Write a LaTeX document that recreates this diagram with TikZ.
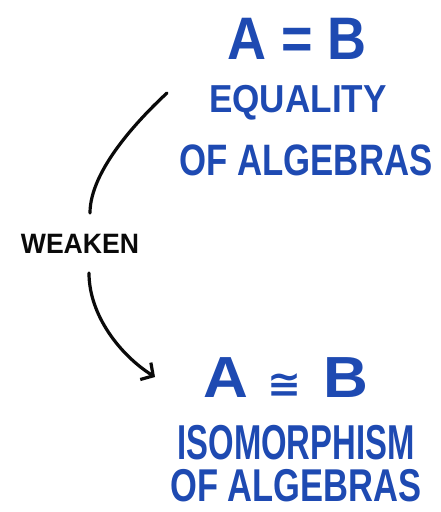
\documentclass[tikz,border=0pt]{standalone}
\usepackage{fontspec}
\setmainfont{Liberation Sans}
\newfontfamily\dejavu{DejaVu Sans}
\usetikzlibrary{arrows.meta}
\definecolor{inkblue}{RGB}{30,74,178}
\definecolor{inkblack}{RGB}{10,10,10}
\begin{document}
\begin{tikzpicture}[x=1pt,y=-1pt,
  bluetxt/.style={inner sep=0pt, text=inkblue, anchor=center, font=\bfseries},
  blktxt/.style={inner sep=0pt, text=inkblack, anchor=center, font=\bfseries},
  stroke/.style={draw=inkblack, line width=3.2pt, line cap=round}]
\useasboundingbox (0,0) rectangle (441,512);
\fill[white] (0,0) rectangle (441,512);
\node[bluetxt] (eq) at (297,39) {\fontsize{60}{60}\selectfont\scalebox{0.9}[1]{A = B}};
\node[bluetxt] (eqt1) at (298,103) {\fontsize{39}{39}\selectfont\scalebox{0.9}[1]{EQUALITY}};
\node[bluetxt] (eqt2) at (306,160) {\fontsize{44}{44}\selectfont\scalebox{0.79}[1]{OF ALGEBRAS}};
\node[bluetxt] (iso) at (286,378) {\fontsize{58}{58}\selectfont\scalebox{1.07}[1]{A\hspace{0.3em}{\dejavu\fontsize{38}{38}\selectfont ≅}\hspace{0.35em}B}};
\node[bluetxt] (isot1) at (296,443) {\fontsize{49}{49}\selectfont\scalebox{0.67}[1]{ISOMORPHISM}};
\node[bluetxt] (isot2) at (296,486) {\fontsize{46}{46}\selectfont\scalebox{0.75}[1]{OF ALGEBRAS}};
\node[blktxt] (weak) at (80,244) {\fontsize{28}{28}\selectfont\scalebox{0.95}[1]{WEAKEN}};
\coordinate (s1) at (167,93);
\coordinate (w1) at (90,213);
\coordinate (w2) at (89,273);
\coordinate (e2) at (155,377);
\draw[stroke] (s1) .. controls (140,118) and (90,170) .. (w1);
\draw[stroke, -{Straight Barb[length=9pt,width=20pt]}] (w2) .. controls (89,315) and (120,355) .. (e2);
\end{tikzpicture}
\end{document}
